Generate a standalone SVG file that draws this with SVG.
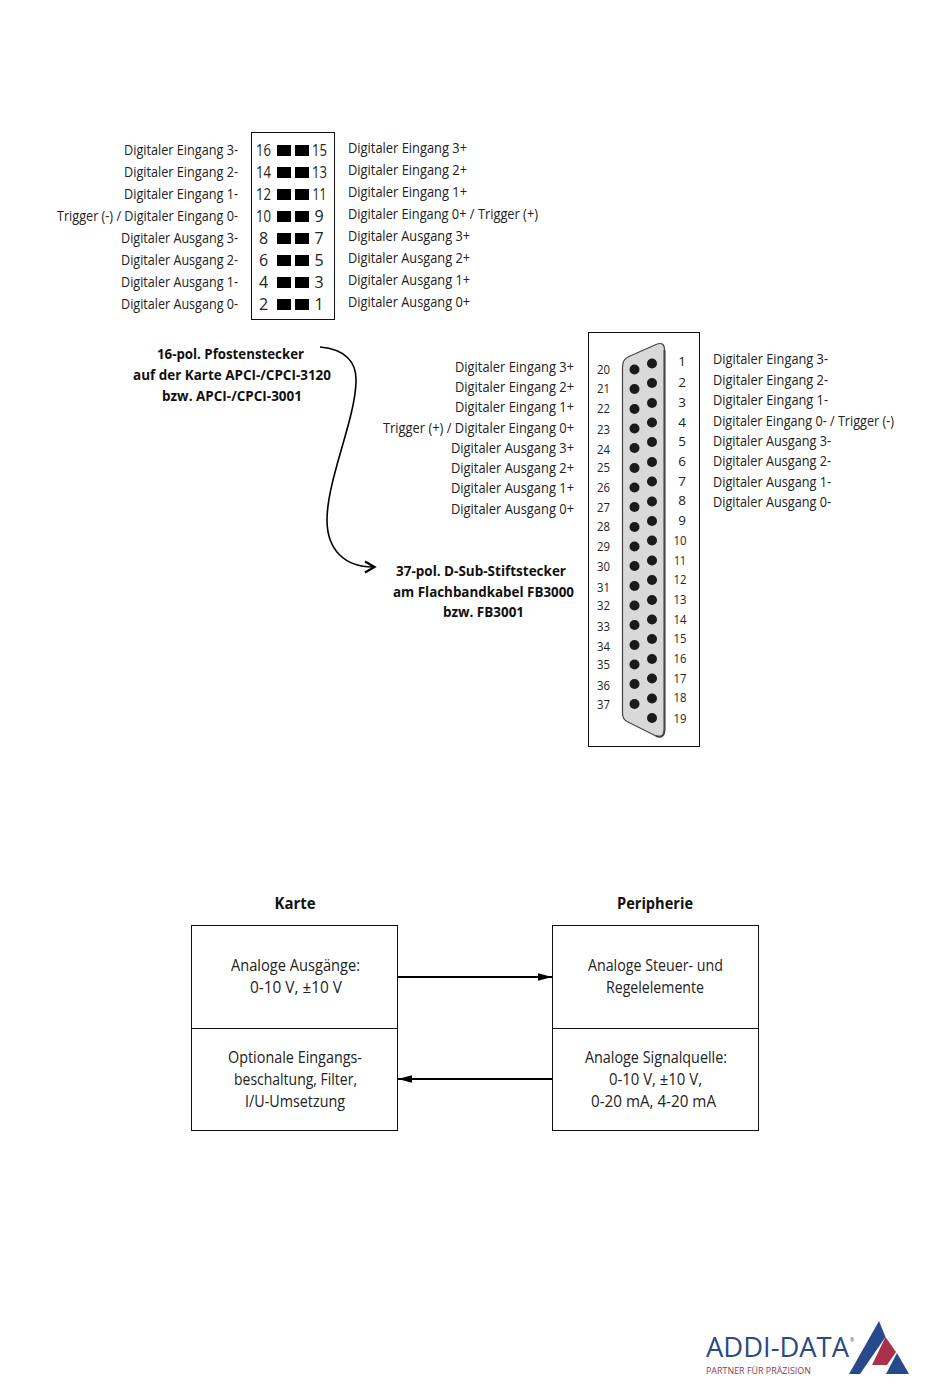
<svg xmlns="http://www.w3.org/2000/svg" width="950" height="1397" viewBox="0 0 950 1397">
<style>
text{font-family:"Open Sans","Noto Sans","Liberation Sans",sans-serif;fill:#222}
.l{font-size:14.5px}
.e{text-anchor:end}
.m{text-anchor:middle}
.b{font-size:15px;font-weight:700;fill:#111}
.c{font-size:17px}
.n{font-size:16px;text-anchor:middle}
.s{font-size:13.5px;text-anchor:middle}
.box{fill:#fff;stroke:#111;stroke-width:1}
.pin{fill:#000}
.dot{fill:#1a1a1a}
</style>
<defs>
<marker id="ah" markerUnits="userSpaceOnUse" markerWidth="14" markerHeight="8" refX="14" refY="4" orient="auto"><path d="M0 0.3L14 4L0 7.7Z" fill="#000"/></marker>
</defs>
<rect width="950" height="1397" fill="#fff"/>

<g id="header16">
<rect class="box" x="251.5" y="132.5" width="83" height="187"/>
<g class="pins">
<rect class="pin" x="277" y="145" width="14" height="11"/><rect class="pin" x="295" y="145" width="14" height="11"/>
<rect class="pin" x="277" y="167" width="14" height="11"/><rect class="pin" x="295" y="167" width="14" height="11"/>
<rect class="pin" x="277" y="189" width="14" height="11"/><rect class="pin" x="295" y="189" width="14" height="11"/>
<rect class="pin" x="277" y="211" width="14" height="11"/><rect class="pin" x="295" y="211" width="14" height="11"/>
<rect class="pin" x="277" y="233" width="14" height="11"/><rect class="pin" x="295" y="233" width="14" height="11"/>
<rect class="pin" x="277" y="255" width="14" height="11"/><rect class="pin" x="295" y="255" width="14" height="11"/>
<rect class="pin" x="277" y="277" width="14" height="11"/><rect class="pin" x="295" y="277" width="14" height="11"/>
<rect class="pin" x="277" y="299" width="14" height="11"/><rect class="pin" x="295" y="299" width="14" height="11"/>
</g>
<text class="n" x="263.5" y="156" textLength="15" lengthAdjust="spacingAndGlyphs">16</text><text class="n" x="319.5" y="156" textLength="15" lengthAdjust="spacingAndGlyphs">15</text>
<text class="n" x="263.5" y="178" textLength="15" lengthAdjust="spacingAndGlyphs">14</text><text class="n" x="319.5" y="178" textLength="15" lengthAdjust="spacingAndGlyphs">13</text>
<text class="n" x="263.5" y="200" textLength="15" lengthAdjust="spacingAndGlyphs">12</text><text class="n" x="319.5" y="200" textLength="14" lengthAdjust="spacingAndGlyphs">11</text>
<text class="n" x="263.5" y="222" textLength="15" lengthAdjust="spacingAndGlyphs">10</text><text class="n" x="319" y="222">9</text>
<text class="n" x="263.5" y="244">8</text><text class="n" x="319" y="244">7</text>
<text class="n" x="263.5" y="266">6</text><text class="n" x="319" y="266">5</text>
<text class="n" x="263.5" y="288">4</text><text class="n" x="319" y="288">3</text>
<text class="n" x="263.5" y="310">2</text><text class="n" x="319" y="310">1</text>
</g>

<g id="header16-left-labels">
<text class="l e" x="238" y="155" textLength="114" lengthAdjust="spacingAndGlyphs">Digitaler Eingang 3-</text>
<text class="l e" x="238" y="177" textLength="114" lengthAdjust="spacingAndGlyphs">Digitaler Eingang 2-</text>
<text class="l e" x="238" y="199" textLength="114" lengthAdjust="spacingAndGlyphs">Digitaler Eingang 1-</text>
<text class="l e" x="238" y="221" textLength="181" lengthAdjust="spacingAndGlyphs">Trigger (-) / Digitaler Eingang 0-</text>
<text class="l e" x="238" y="243" textLength="117" lengthAdjust="spacingAndGlyphs">Digitaler Ausgang 3-</text>
<text class="l e" x="238" y="265" textLength="117" lengthAdjust="spacingAndGlyphs">Digitaler Ausgang 2-</text>
<text class="l e" x="238" y="287" textLength="117" lengthAdjust="spacingAndGlyphs">Digitaler Ausgang 1-</text>
<text class="l e" x="238" y="309" textLength="117" lengthAdjust="spacingAndGlyphs">Digitaler Ausgang 0-</text>
</g>

<g id="header16-right-labels">
<text class="l" x="348" y="153" textLength="119" lengthAdjust="spacingAndGlyphs">Digitaler Eingang 3+</text>
<text class="l" x="348" y="175" textLength="119" lengthAdjust="spacingAndGlyphs">Digitaler Eingang 2+</text>
<text class="l" x="348" y="197" textLength="119" lengthAdjust="spacingAndGlyphs">Digitaler Eingang 1+</text>
<text class="l" x="348" y="219" textLength="190" lengthAdjust="spacingAndGlyphs">Digitaler Eingang 0+ / Trigger (+)</text>
<text class="l" x="348" y="241" textLength="122" lengthAdjust="spacingAndGlyphs">Digitaler Ausgang 3+</text>
<text class="l" x="348" y="263" textLength="122" lengthAdjust="spacingAndGlyphs">Digitaler Ausgang 2+</text>
<text class="l" x="348" y="285" textLength="122" lengthAdjust="spacingAndGlyphs">Digitaler Ausgang 1+</text>
<text class="l" x="348" y="307" textLength="122" lengthAdjust="spacingAndGlyphs">Digitaler Ausgang 0+</text>
</g>

<g id="caption16">
<text class="b m" x="230.5" y="359" textLength="147" lengthAdjust="spacingAndGlyphs">16-pol. Pfostenstecker</text>
<text class="b m" x="232" y="380" textLength="198" lengthAdjust="spacingAndGlyphs">auf der Karte APCI-/CPCI-3120</text>
<text class="b m" x="232" y="401" textLength="140" lengthAdjust="spacingAndGlyphs">bzw. APCI-/CPCI-3001</text>
</g>

<g id="dsub37">
<rect class="box" x="588.5" y="332.5" width="111" height="414"/>
<path d="M622.5 367Q622.5 359 629 356.5L656 344.5Q664.5 341 664.5 350V729Q664.5 739 656 736L628 722Q622.5 720 622.5 713Z" fill="#d9d9d9" stroke="#444" stroke-width="1.2"/>
<path d="M664.5 350V729Q664.5 739 656 736" fill="none" stroke="#444" stroke-width="2"/>
<g id="dsub-pins">
<circle class="dot" cx="652" cy="363.5" r="5"/><circle class="dot" cx="652" cy="383" r="5"/><circle class="dot" cx="652" cy="403" r="5"/><circle class="dot" cx="652" cy="422.5" r="5"/><circle class="dot" cx="652" cy="442" r="5"/><circle class="dot" cx="652" cy="462" r="5"/><circle class="dot" cx="652" cy="481.5" r="5"/><circle class="dot" cx="652" cy="501.5" r="5"/><circle class="dot" cx="652" cy="521" r="5"/><circle class="dot" cx="652" cy="540.5" r="5"/><circle class="dot" cx="652" cy="560.5" r="5"/><circle class="dot" cx="652" cy="580" r="5"/><circle class="dot" cx="652" cy="600" r="5"/><circle class="dot" cx="652" cy="619.5" r="5"/><circle class="dot" cx="652" cy="639" r="5"/><circle class="dot" cx="652" cy="659" r="5"/><circle class="dot" cx="652" cy="678.5" r="5"/><circle class="dot" cx="652" cy="698.5" r="5"/><circle class="dot" cx="652" cy="718" r="5"/>
<circle class="dot" cx="634.5" cy="369.5" r="5"/><circle class="dot" cx="634.5" cy="389" r="5"/><circle class="dot" cx="634.5" cy="409" r="5"/><circle class="dot" cx="634.5" cy="428.5" r="5"/><circle class="dot" cx="634.5" cy="448" r="5"/><circle class="dot" cx="634.5" cy="468" r="5"/><circle class="dot" cx="634.5" cy="487.5" r="5"/><circle class="dot" cx="634.5" cy="507" r="5"/><circle class="dot" cx="634.5" cy="527" r="5"/><circle class="dot" cx="634.5" cy="546.5" r="5"/><circle class="dot" cx="634.5" cy="566" r="5"/><circle class="dot" cx="634.5" cy="586" r="5"/><circle class="dot" cx="634.5" cy="605.5" r="5"/><circle class="dot" cx="634.5" cy="625" r="5"/><circle class="dot" cx="634.5" cy="645" r="5"/><circle class="dot" cx="634.5" cy="664.5" r="5"/><circle class="dot" cx="634.5" cy="684" r="5"/><circle class="dot" cx="634.5" cy="704" r="5"/>
</g>
<g id="dsub-numbers">
<text class="s" x="682" y="366">1</text><text class="s" x="682" y="387">2</text><text class="s" x="682" y="407">3</text><text class="s" x="682" y="427">4</text><text class="s" x="682" y="446">5</text><text class="s" x="682" y="466">6</text><text class="s" x="682" y="486">7</text><text class="s" x="682" y="505">8</text><text class="s" x="682" y="525">9</text><text class="s" x="680" y="545" textLength="13" lengthAdjust="spacingAndGlyphs">10</text><text class="s" x="680" y="565" textLength="12" lengthAdjust="spacingAndGlyphs">11</text><text class="s" x="680" y="584" textLength="13" lengthAdjust="spacingAndGlyphs">12</text><text class="s" x="680" y="604" textLength="13" lengthAdjust="spacingAndGlyphs">13</text><text class="s" x="680" y="624" textLength="13" lengthAdjust="spacingAndGlyphs">14</text><text class="s" x="680" y="643" textLength="13" lengthAdjust="spacingAndGlyphs">15</text><text class="s" x="680" y="663" textLength="13" lengthAdjust="spacingAndGlyphs">16</text><text class="s" x="680" y="683" textLength="13" lengthAdjust="spacingAndGlyphs">17</text><text class="s" x="680" y="702" textLength="13" lengthAdjust="spacingAndGlyphs">18</text><text class="s" x="680" y="723" textLength="13" lengthAdjust="spacingAndGlyphs">19</text>
<text class="s" x="603.5" y="374" textLength="13" lengthAdjust="spacingAndGlyphs">20</text><text class="s" x="603.5" y="393" textLength="13" lengthAdjust="spacingAndGlyphs">21</text><text class="s" x="603.5" y="413" textLength="13" lengthAdjust="spacingAndGlyphs">22</text><text class="s" x="603.5" y="434" textLength="13" lengthAdjust="spacingAndGlyphs">23</text><text class="s" x="603.5" y="454" textLength="13" lengthAdjust="spacingAndGlyphs">24</text><text class="s" x="603.5" y="472" textLength="13" lengthAdjust="spacingAndGlyphs">25</text><text class="s" x="603.5" y="492" textLength="13" lengthAdjust="spacingAndGlyphs">26</text><text class="s" x="603.5" y="512" textLength="13" lengthAdjust="spacingAndGlyphs">27</text><text class="s" x="603.5" y="531" textLength="13" lengthAdjust="spacingAndGlyphs">28</text><text class="s" x="603.5" y="551" textLength="13" lengthAdjust="spacingAndGlyphs">29</text><text class="s" x="603.5" y="571" textLength="13" lengthAdjust="spacingAndGlyphs">30</text><text class="s" x="603.5" y="592" textLength="13" lengthAdjust="spacingAndGlyphs">31</text><text class="s" x="603.5" y="610" textLength="13" lengthAdjust="spacingAndGlyphs">32</text><text class="s" x="603.5" y="631" textLength="13" lengthAdjust="spacingAndGlyphs">33</text><text class="s" x="603.5" y="651" textLength="13" lengthAdjust="spacingAndGlyphs">34</text><text class="s" x="603.5" y="669" textLength="13" lengthAdjust="spacingAndGlyphs">35</text><text class="s" x="603.5" y="690" textLength="13" lengthAdjust="spacingAndGlyphs">36</text><text class="s" x="603.5" y="709" textLength="13" lengthAdjust="spacingAndGlyphs">37</text>
</g>
</g>

<g id="dsub-left-labels">
<text class="l e" x="574" y="372" textLength="119" lengthAdjust="spacingAndGlyphs">Digitaler Eingang 3+</text>
<text class="l e" x="574" y="392" textLength="119" lengthAdjust="spacingAndGlyphs">Digitaler Eingang 2+</text>
<text class="l e" x="574" y="412" textLength="119" lengthAdjust="spacingAndGlyphs">Digitaler Eingang 1+</text>
<text class="l e" x="574" y="433" textLength="191" lengthAdjust="spacingAndGlyphs">Trigger (+) / Digitaler Eingang 0+</text>
<text class="l e" x="574" y="453" textLength="123" lengthAdjust="spacingAndGlyphs">Digitaler Ausgang 3+</text>
<text class="l e" x="574" y="473" textLength="123" lengthAdjust="spacingAndGlyphs">Digitaler Ausgang 2+</text>
<text class="l e" x="574" y="493" textLength="123" lengthAdjust="spacingAndGlyphs">Digitaler Ausgang 1+</text>
<text class="l e" x="574" y="514" textLength="123" lengthAdjust="spacingAndGlyphs">Digitaler Ausgang 0+</text>
</g>

<g id="dsub-right-labels">
<text class="l" x="713" y="364" textLength="115" lengthAdjust="spacingAndGlyphs">Digitaler Eingang 3-</text>
<text class="l" x="713" y="385" textLength="115" lengthAdjust="spacingAndGlyphs">Digitaler Eingang 2-</text>
<text class="l" x="713" y="405" textLength="115" lengthAdjust="spacingAndGlyphs">Digitaler Eingang 1-</text>
<text class="l" x="713" y="426" textLength="181" lengthAdjust="spacingAndGlyphs">Digitaler Eingang 0- / Trigger (-)</text>
<text class="l" x="713" y="446" textLength="118" lengthAdjust="spacingAndGlyphs">Digitaler Ausgang 3-</text>
<text class="l" x="713" y="466" textLength="118" lengthAdjust="spacingAndGlyphs">Digitaler Ausgang 2-</text>
<text class="l" x="713" y="487" textLength="118" lengthAdjust="spacingAndGlyphs">Digitaler Ausgang 1-</text>
<text class="l" x="713" y="507" textLength="118" lengthAdjust="spacingAndGlyphs">Digitaler Ausgang 0-</text>
</g>

<g id="caption37">
<text class="b m" x="481" y="576" textLength="170" lengthAdjust="spacingAndGlyphs">37-pol. D-Sub-Stiftstecker</text>
<text class="b m" x="483.5" y="597" textLength="181" lengthAdjust="spacingAndGlyphs">am Flachbandkabel FB3000</text>
<text class="b m" x="483.5" y="617" textLength="81" lengthAdjust="spacingAndGlyphs">bzw. FB3001</text>
</g>

<g id="title-karte"><text class="b m" x="295" y="909" textLength="41" lengthAdjust="spacingAndGlyphs" style="font-size:16px">Karte</text></g>
<g id="title-peripherie"><text class="b m" x="655" y="909" textLength="76" lengthAdjust="spacingAndGlyphs" style="font-size:16px">Peripherie</text></g>

<g id="box-ausgaenge">
<rect class="box" x="191.5" y="925.5" width="206" height="103"/>
<text class="c m" x="295.5" y="971" textLength="129" lengthAdjust="spacingAndGlyphs">Analoge Ausgänge:</text>
<text class="c m" x="296" y="993" textLength="92" lengthAdjust="spacingAndGlyphs">0-10 V, ±10 V</text>
</g>
<g id="box-eingangsbeschaltung">
<rect class="box" x="191.5" y="1028.5" width="206" height="102"/>
<text class="c m" x="295" y="1063" textLength="134" lengthAdjust="spacingAndGlyphs">Optionale Eingangs-</text>
<text class="c m" x="295.5" y="1085" textLength="123" lengthAdjust="spacingAndGlyphs">beschaltung, Filter,</text>
<text class="c m" x="295" y="1107" textLength="100" lengthAdjust="spacingAndGlyphs">I/U-Umsetzung</text>
</g>
<g id="box-steuer">
<rect class="box" x="552.5" y="925.5" width="206" height="103"/>
<text class="c m" x="655.5" y="971" textLength="135" lengthAdjust="spacingAndGlyphs">Analoge Steuer- und</text>
<text class="c m" x="655" y="993" textLength="98" lengthAdjust="spacingAndGlyphs">Regelelemente</text>
</g>
<g id="box-signalquelle">
<rect class="box" x="552.5" y="1028.5" width="206" height="102"/>
<text class="c m" x="656" y="1063" textLength="142" lengthAdjust="spacingAndGlyphs">Analoge Signalquelle:</text>
<text class="c m" x="655.5" y="1085" textLength="93" lengthAdjust="spacingAndGlyphs">0-10 V, ±10 V,</text>
<text class="c m" x="653.5" y="1107" textLength="125" lengthAdjust="spacingAndGlyphs">0-20 mA, 4-20 mA</text>
</g>

<g id="connectors" fill="none" stroke="#000">
<path d="M320 347C345 349 357 362 356 382C355 420 327 480 327 520C327 550 345 567 373 567" stroke-width="1.6"/>
<path d="M365 561.5L374.5 567L365 572.5" stroke-width="2.2"/>
<path d="M398 977H552" stroke-width="2" marker-end="url(#ah)"/>
<path d="M552 1079H398" stroke-width="2" marker-end="url(#ah)"/>
</g>

<g id="logo">
<text x="706" y="1357" textLength="143" lengthAdjust="spacingAndGlyphs" style="font-size:27px;fill:#2b4a86">ADDI-DATA</text>
<text x="850" y="1342" style="font-size:5px;fill:#2b4a86">®</text>
<text x="706" y="1374" textLength="105" lengthAdjust="spacingAndGlyphs" style="font-size:8.5px;fill:#8e3a52">PARTNER FÜR PRÄZISION</text>
<polygon points="879,1321 885.5,1337 860,1374 849,1374" fill="#274a8f"/>
<polygon points="885.5,1337 896,1352 887,1365 872,1365" fill="#a9324a"/>
<polygon points="897,1353 909,1374 886,1374" fill="#274a8f"/>
</g>
</svg>
